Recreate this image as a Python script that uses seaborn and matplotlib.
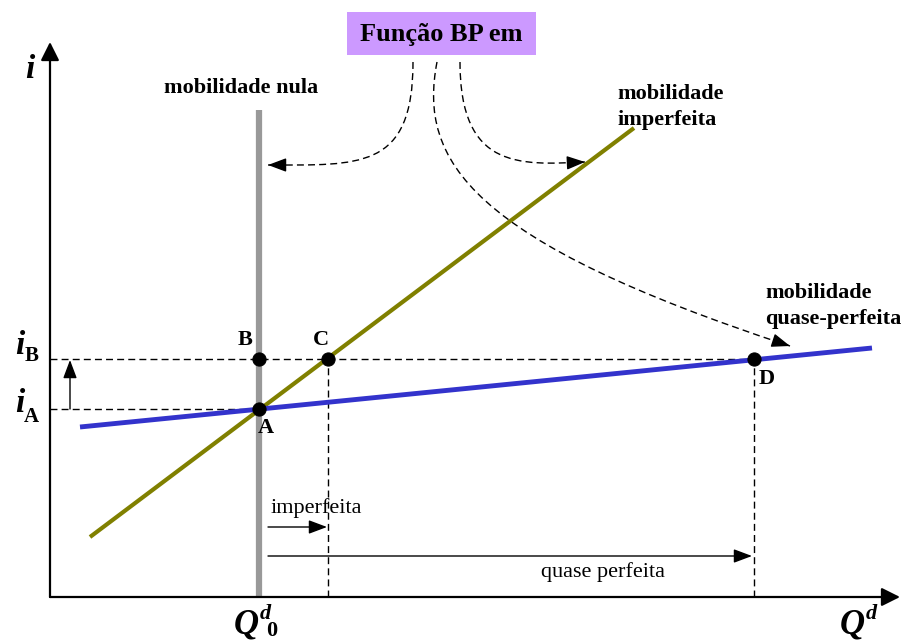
import numpy as np
import pandas as pd
import seaborn as sns
import matplotlib.pyplot as plt
from matplotlib.path import Path
from matplotlib.patches import PathPatch, Rectangle

# Coordenadas do diagrama (eixo x = Qd, eixo y = i), em unidades do desenho
q_axis = [50, 900]
i_axis = [44, 599]

q0, q_c, q_d = 259, 328, 754
i_a, i_b = 232, 282

# Curvas BP
bp_nula_q = [259, 259]
bp_nula_i = [44, 531]
bp_imperf_q = [90, 634]
bp_imperf_i = [104, 513]
bp_quase_q = [80, 872]
bp_quase_i = [214, 293]

pontos_nome = ["A", "B", "C", "D"]
pontos_q = [q0, q0, q_c, q_d]
pontos_i = [i_a, i_b, i_b, i_b]

# Curvas tracejadas saindo da caixa "Função BP em" (pontos de controle Bezier)
setas_bp = [
    [(413, 579), (413, 471), (360, 476), (268, 476)],
    [(460, 579), (460, 471), (520, 476), (585, 479)],
    [(437, 579), (418, 480), (470, 400), (790, 295)],
]

sns.set_style("white")
plt.rcParams["font.family"] = ["Liberation Serif", "DejaVu Serif"]
plt.rcParams["text.color"] = "black"
plt.rcParams["lines.solid_capstyle"] = "butt"

fig = plt.figure(figsize=(9.08, 6.41), dpi=100)
ax = fig.add_axes([0, 0, 1, 1])
ax.set_xlim(0, 908)
ax.set_ylim(0, 641)
ax.axis("off")

# Eixos com setas
seta_eixo = dict(arrowstyle="-|>,head_length=0.7,head_width=0.35", color="black",
                 lw=1.6, mutation_scale=16, shrinkA=0, shrinkB=0)
ax.annotate("", xy=(q_axis[0], i_axis[1]), xytext=(q_axis[0], i_axis[0]), arrowprops=seta_eixo)
ax.annotate("", xy=(q_axis[1], i_axis[0]), xytext=(q_axis[0], i_axis[0]), arrowprops=seta_eixo)

# Linhas tracejadas de referência
tracejado = dict(color="black", lw=1, linestyle=(0, (5, 3)))
ax.plot([q_axis[0], q_d], [i_b, i_b], **tracejado)
ax.plot([q_axis[0], q0], [i_a, i_a], **tracejado)
ax.plot([q_c, q_c], [i_axis[0], i_b], **tracejado)
ax.plot([q_d, q_d], [i_axis[0], i_b], **tracejado)

# Curvas BP
sns.lineplot(x=bp_nula_q, y=bp_nula_i, ax=ax, color="#999999", linewidth=4.5,
             estimator=None, sort=False)
sns.lineplot(x=bp_imperf_q, y=bp_imperf_i, ax=ax, color="#808000", linewidth=3)
sns.lineplot(x=bp_quase_q, y=bp_quase_i, ax=ax, color="#3333cc", linewidth=3.5)

sns.scatterplot(x=pontos_q, y=pontos_i, ax=ax, color="black", s=90, zorder=5, edgecolor="black")

# Rótulos dos pontos
desloc = {"A": (7, -19), "B": (-14, 19), "C": (-7, 19), "D": (13, -20)}
for nome, q, i in zip(pontos_nome, pontos_q, pontos_i):
    dx, dy = desloc[nome]
    ax.text(q + dx, i + dy, nome, fontsize=16, fontweight="bold", ha="center", va="center")

# Caixa "Função BP em"
ax.add_patch(Rectangle((347, 586), 189, 43, facecolor="#cc99ff", edgecolor="none"))
ax.text(441, 607, "Função BP em", fontsize=19, fontweight="bold", ha="center", va="center")

# Setas tracejadas curvas
codes = [Path.MOVETO, Path.CURVE4, Path.CURVE4, Path.CURVE4]
for pts in setas_bp:
    ax.add_patch(PathPatch(Path(pts, codes), facecolor="none", edgecolor="black",
                           lw=1, linestyle=(0, (5, 3))))
    fim = np.array(pts[3], dtype=float)
    direcao = fim - np.array(pts[2], dtype=float)
    direcao = direcao / np.linalg.norm(direcao)
    ax.annotate("", xy=tuple(fim), xytext=tuple(fim - 10 * direcao),
                arrowprops=dict(arrowstyle="-|>,head_length=0.8,head_width=0.3",
                                color="black", lw=1, mutation_scale=14,
                                shrinkA=0, shrinkB=0))

# Setas pequenas
seta_peq = dict(arrowstyle="-|>,head_length=0.8,head_width=0.3", color="black",
                lw=1, mutation_scale=14, shrinkA=0, shrinkB=0)
ax.annotate("", xy=(70, i_b - 1), xytext=(70, i_a), arrowprops=seta_peq)
ax.annotate("", xy=(q_c - 1, 114), xytext=(268, 114), arrowprops=seta_peq)
ax.annotate("", xy=(q_d - 2, 85), xytext=(268, 85), arrowprops=seta_peq)

ax.text(316, 133, "imperfeita", fontsize=16, ha="center", va="center")
ax.text(603, 69, "quase perfeita", fontsize=16, ha="center", va="center")

# Textos das curvas
ax.text(241, 553, "mobilidade nula", fontsize=16, fontweight="bold", ha="center", va="center")
ax.text(617, 534, "mobilidade\nimperfeita", fontsize=16, fontweight="bold", ha="left",
        va="center", linespacing=1.45)
ax.text(765, 335, "mobilidade\nquase-perfeita", fontsize=16, fontweight="bold", ha="left",
        va="center", linespacing=1.45)

# Rótulos dos eixos
rot = dict(fontweight="bold", style="italic", ha="center", va="center")
ax.text(30, 572, "i", fontsize=24, **rot)
ax.text(20, 295, "i", fontsize=24, **rot)
ax.text(32, 285, "B", fontsize=15, fontweight="bold", ha="center", va="center")
ax.text(20, 237, "i", fontsize=24, **rot)
ax.text(31, 224, "A", fontsize=15, fontweight="bold", ha="center", va="center")
ax.text(246, 16, "Q", fontsize=25, **rot)
ax.text(265, 27, "d", fontsize=16, **rot)
ax.text(272, 10, "0", fontsize=16, fontweight="bold", ha="center", va="center")
ax.text(852, 16, "Q", fontsize=25, **rot)
ax.text(871, 27, "d", fontsize=16, **rot)

fig.savefig("out.png", dpi=100)
